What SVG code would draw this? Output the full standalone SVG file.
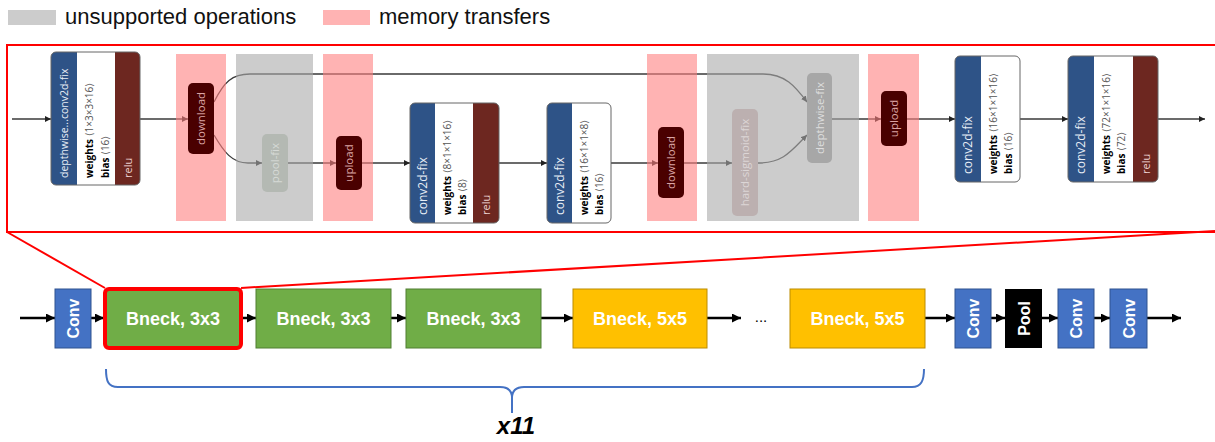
<svg xmlns="http://www.w3.org/2000/svg" width="1215" height="442" viewBox="0 0 1215 442">
<style>
.leg{font-family:"Liberation Sans",Arial,sans-serif;font-size:22px;fill:#111}
.lbl{font-family:"Open Sans","DejaVu Sans",sans-serif;font-size:12px;fill:#e8eef6}
.wt{font-family:"Open Sans","DejaVu Sans",sans-serif;font-size:10px;fill:#000}
.wt .b{font-weight:bold}
.wt .d{fill:#555}
.relu{font-family:"Open Sans","DejaVu Sans",sans-serif;font-size:11px;fill:#ecd2d2}
.mem{fill:#4a0000}
.memt{font-family:"Open Sans","DejaVu Sans",sans-serif;font-size:11.5px;fill:#dba4a4}
.blue{fill:#2e5387}
.brown{fill:#6d2720}
.frame{fill:none;stroke:#666;stroke-width:1}
.e{fill:none;stroke:#3a3a3a;stroke-width:1.3}
.be{fill:none;stroke:#000;stroke-width:2.5}
.bn{font-family:"Liberation Sans",Arial,sans-serif;font-size:18px;font-weight:bold;fill:#fff}
.vt{font-family:"Liberation Sans",Arial,sans-serif;font-size:16px;font-weight:bold;fill:#fff}
</style>
<defs>
<marker id="ah" viewBox="0 0 6 6" refX="6" refY="3" markerWidth="6" markerHeight="6" markerUnits="userSpaceOnUse" orient="auto"><path d="M0,0 L6,3 L0,6 z" fill="#222"/></marker>
<marker id="bh" viewBox="0 0 8 8" refX="8" refY="4" markerWidth="9" markerHeight="9" markerUnits="userSpaceOnUse" orient="auto"><path d="M0,0 L8,4 L0,8 z" fill="#000"/></marker>
</defs>

<!-- legend -->
<g id="legend">
<rect x="8" y="10" width="48" height="15" fill="#cccccc"/>
<text class="leg" x="65" y="24">unsupported operations</text>
<rect x="323" y="10" width="47" height="15" fill="#ffb3b3"/>
<text class="leg" x="379" y="24">memory transfers</text>
</g>

<!-- zoom frame -->
<g id="zoom-frame" fill="none" stroke="#ff0000" stroke-width="2">
<rect x="7" y="45" width="1225" height="187"/>
<line x1="7" y1="232" x2="105" y2="288"/>
<line x1="1215" y1="231" x2="241" y2="288"/>
</g>

<!-- top connectors -->
<g id="connectors-top">
<path class="e" d="M12,119 H51" marker-end="url(#ah)"/>
<path class="e" d="M140,119 H188" marker-end="url(#ah)"/>
<path class="e" d="M214,102 C224,82 232,74 250,74 H763 C785,74 795,86 807,102" marker-end="url(#ah)"/>
<path class="e" d="M214,135 C224,152 232,163 248,163 H262" marker-end="url(#ah)"/>
<path class="e" d="M288,163 H336" marker-end="url(#ah)"/>
<path class="e" d="M362,163 H410" marker-end="url(#ah)"/>
<path class="e" d="M499,163 H547" marker-end="url(#ah)"/>
<path class="e" d="M611,163 H658" marker-end="url(#ah)"/>
<path class="e" d="M684,163 H732" marker-end="url(#ah)"/>
<path class="e" d="M758,163 C784,163 792,150 807,135" marker-end="url(#ah)"/>
<path class="e" d="M832,119 H881" marker-end="url(#ah)"/>
<path class="e" d="M907,119 H955" marker-end="url(#ah)"/>
<path class="e" d="M1020,119 H1068" marker-end="url(#ah)"/>
<path class="e" d="M1158,119 H1205" marker-end="url(#ah)"/>
</g>

<!-- highlight bands -->
<g id="bands">
<rect x="176" y="54" width="50" height="167" fill="#ff8080" fill-opacity="0.6"/>
<rect x="236" y="54" width="77" height="167" fill="#aaaaaa" fill-opacity="0.6"/>
<rect x="323" y="54" width="50" height="167" fill="#ff8080" fill-opacity="0.6"/>
<rect x="647" y="54" width="50" height="167" fill="#ff8080" fill-opacity="0.6"/>
<rect x="707" y="54" width="152" height="167" fill="#aaaaaa" fill-opacity="0.6"/>
<rect x="868" y="54" width="51" height="167" fill="#ff8080" fill-opacity="0.6"/>
</g>

<!-- top nodes -->
<g id="node-depthwise-conv2d">
<path class="blue" d="M77,52 V185 H56 A5,5 0 0 1 51,180 V57 A5,5 0 0 1 56,52 Z"/>
<rect x="77" y="52" width="38" height="133" fill="#fff"/>
<path class="brown" d="M115,52 H135 A5,5 0 0 1 140,57 V180 A5,5 0 0 1 135,185 H115 Z"/>
<rect class="frame" x="51" y="52" width="89" height="133" rx="5"/>
<text class="lbl" font-size="10.5" style="font-size:10.5px" transform="translate(68,178) rotate(-90)">depthwise...conv2d-fix</text>
<text class="wt" transform="translate(93,178) rotate(-90)"><tspan class="b">weights</tspan><tspan class="d"> ⟨1×3×3×16⟩</tspan></text>
<text class="wt" transform="translate(108.5,178) rotate(-90)"><tspan class="b">bias</tspan><tspan class="d"> ⟨16⟩</tspan></text>
<text class="relu" transform="translate(131.5,178) rotate(-90)">relu</text>
</g>

<g id="node-download-1">
<rect class="mem" x="188" y="83" width="26" height="71" rx="5"/>
<text class="memt" text-anchor="middle" transform="translate(205,118.5) rotate(-90)">download</text>
</g>

<g id="node-pool-fix">
<rect x="262" y="134" width="26" height="58" rx="5" fill="#b4b9b3"/>
<text class="memt" style="fill:#d6d9d6" text-anchor="middle" transform="translate(279,163) rotate(-90)">pool-fix</text>
</g>

<g id="node-upload-1">
<rect class="mem" x="336" y="136" width="26" height="54" rx="5"/>
<text class="memt" text-anchor="middle" transform="translate(353,163) rotate(-90)">upload</text>
</g>

<g id="node-conv2d-1">
<path class="blue" d="M435,103 V223 H415 A5,5 0 0 1 410,218 V108 A5,5 0 0 1 415,103 Z"/>
<rect x="435" y="103" width="38" height="120" fill="#fff"/>
<path class="brown" d="M473,103 H494 A5,5 0 0 1 499,108 V218 A5,5 0 0 1 494,223 H473 Z"/>
<rect class="frame" x="410" y="103" width="89" height="120" rx="5"/>
<text class="lbl" transform="translate(427,215) rotate(-90)">conv2d-fix</text>
<text class="wt" transform="translate(451,215) rotate(-90)"><tspan class="b">weights</tspan><tspan class="d"> ⟨8×1×1×16⟩</tspan></text>
<text class="wt" transform="translate(465.5,215) rotate(-90)"><tspan class="b">bias</tspan><tspan class="d"> ⟨8⟩</tspan></text>
<text class="relu" transform="translate(489.5,215) rotate(-90)">relu</text>
</g>

<g id="node-conv2d-2">
<path class="blue" d="M572,103 V223 H552 A5,5 0 0 1 547,218 V108 A5,5 0 0 1 552,103 Z"/>
<path d="M572,103 H606 A5,5 0 0 1 611,108 V218 A5,5 0 0 1 606,223 H572 Z" fill="#fff"/>
<rect class="frame" x="547" y="103" width="64" height="120" rx="5"/>
<text class="lbl" transform="translate(564,215) rotate(-90)">conv2d-fix</text>
<text class="wt" transform="translate(588,215) rotate(-90)"><tspan class="b">weights</tspan><tspan class="d"> ⟨16×1×1×8⟩</tspan></text>
<text class="wt" transform="translate(602.5,215) rotate(-90)"><tspan class="b">bias</tspan><tspan class="d"> ⟨16⟩</tspan></text>
</g>

<g id="node-download-2">
<rect class="mem" x="658" y="127" width="26" height="71" rx="5"/>
<text class="memt" text-anchor="middle" transform="translate(675,162.5) rotate(-90)">download</text>
</g>

<g id="node-hard-sigmoid">
<rect x="732" y="109" width="26" height="107" rx="5" fill="#bcb0b0"/>
<text class="memt" style="fill:#dcd6d6" text-anchor="middle" transform="translate(749,162.5) rotate(-90)">hard-sigmoid-fix</text>
</g>

<g id="node-depthwise-fix">
<rect x="807" y="73" width="25" height="90" rx="5" fill="#a7a7a7"/>
<text class="memt" style="fill:#dedede" text-anchor="middle" transform="translate(823.5,118) rotate(-90)">depthwise-fix</text>
</g>

<g id="node-upload-2">
<rect class="mem" x="881" y="91" width="26" height="55" rx="5"/>
<text class="memt" text-anchor="middle" transform="translate(898,118.5) rotate(-90)">upload</text>
</g>

<g id="node-conv2d-3">
<path class="blue" d="M981,56 V182 H960 A5,5 0 0 1 955,177 V61 A5,5 0 0 1 960,56 Z"/>
<path d="M981,56 H1015 A5,5 0 0 1 1020,61 V177 A5,5 0 0 1 1015,182 H981 Z" fill="#fff"/>
<rect class="frame" x="955" y="56" width="65" height="126" rx="5"/>
<text class="lbl" transform="translate(972,174) rotate(-90)">conv2d-fix</text>
<text class="wt" transform="translate(997,174) rotate(-90)"><tspan class="b">weights</tspan><tspan class="d"> ⟨16×1×1×16⟩</tspan></text>
<text class="wt" transform="translate(1011.5,174) rotate(-90)"><tspan class="b">bias</tspan><tspan class="d"> ⟨16⟩</tspan></text>
</g>

<g id="node-conv2d-4">
<path class="blue" d="M1094,56 V182 H1073 A5,5 0 0 1 1068,177 V61 A5,5 0 0 1 1073,56 Z"/>
<rect x="1094" y="56" width="39" height="126" fill="#fff"/>
<path class="brown" d="M1133,56 H1153 A5,5 0 0 1 1158,61 V177 A5,5 0 0 1 1153,182 H1133 Z"/>
<rect class="frame" x="1068" y="56" width="90" height="126" rx="5"/>
<text class="lbl" transform="translate(1085,174) rotate(-90)">conv2d-fix</text>
<text class="wt" transform="translate(1110,174) rotate(-90)"><tspan class="b">weights</tspan><tspan class="d"> ⟨72×1×1×16⟩</tspan></text>
<text class="wt" transform="translate(1124.5,174) rotate(-90)"><tspan class="b">bias</tspan><tspan class="d"> ⟨72⟩</tspan></text>
<text class="relu" transform="translate(1149.5,174) rotate(-90)">relu</text>
</g>

<!-- bottom connectors -->
<g id="connectors-bottom">
<path class="be" d="M20,318 H55" marker-end="url(#bh)"/>
<path class="be" d="M91,318 H104" marker-end="url(#bh)"/>
<path class="be" d="M242,318 H256" marker-end="url(#bh)"/>
<path class="be" d="M391,318 H406" marker-end="url(#bh)"/>
<path class="be" d="M541,318 H573" marker-end="url(#bh)"/>
<path class="be" d="M707,318 H741" marker-end="url(#bh)"/>
<path class="be" d="M925,318 H955" marker-end="url(#bh)"/>
<path class="be" d="M991,318 H1005" marker-end="url(#bh)"/>
<path class="be" d="M1042,318 H1058" marker-end="url(#bh)"/>
<path class="be" d="M1094,318 H1110" marker-end="url(#bh)"/>
<path class="be" d="M1147,318 H1181" marker-end="url(#bh)"/>
</g>

<!-- bottom nodes -->
<g id="conv-1">
<rect x="55" y="289" width="36" height="59" fill="#4472c4" stroke="#2f528f" stroke-width="1"/>
<text class="vt" text-anchor="middle" transform="translate(73,318.5) rotate(-90)" y="6">Conv</text>
</g>
<g id="bneck-1">
<rect x="105" y="289" width="136" height="59" rx="4" fill="#70ad47" stroke="#ff0000" stroke-width="4"/>
<text class="bn" x="173" y="324.5" text-anchor="middle">Bneck, 3x3</text>
</g>
<g id="bneck-2">
<rect x="256" y="289" width="135" height="59" fill="#70ad47" stroke="#507e32" stroke-width="1"/>
<text class="bn" x="323.5" y="324.5" text-anchor="middle">Bneck, 3x3</text>
</g>
<g id="bneck-3">
<rect x="406" y="289" width="135" height="59" fill="#70ad47" stroke="#507e32" stroke-width="1"/>
<text class="bn" x="473.5" y="324.5" text-anchor="middle">Bneck, 3x3</text>
</g>
<g id="bneck-4">
<rect x="573" y="289" width="134" height="59" fill="#ffc000" stroke="#bc8c00" stroke-width="1"/>
<text class="bn" x="640" y="324.5" text-anchor="middle">Bneck, 5x5</text>
</g>
<g id="ellipsis">
<text x="761" y="322" text-anchor="middle" font-family="Liberation Sans, Arial, sans-serif" font-size="15" fill="#000">...</text>
</g>
<g id="bneck-5">
<rect x="790" y="289" width="135" height="59" fill="#ffc000" stroke="#bc8c00" stroke-width="1"/>
<text class="bn" x="857.5" y="324.5" text-anchor="middle">Bneck, 5x5</text>
</g>
<g id="conv-2">
<rect x="955" y="289" width="36" height="59" fill="#4472c4" stroke="#2f528f" stroke-width="1"/>
<text class="vt" text-anchor="middle" transform="translate(973,318.5) rotate(-90)" y="6">Conv</text>
</g>
<g id="pool">
<rect x="1005" y="289" width="37" height="59" fill="#000"/>
<text class="vt" text-anchor="middle" transform="translate(1023.5,318.5) rotate(-90)" y="6">Pool</text>
</g>
<g id="conv-3">
<rect x="1058" y="289" width="36" height="59" fill="#4472c4" stroke="#2f528f" stroke-width="1"/>
<text class="vt" text-anchor="middle" transform="translate(1076,318.5) rotate(-90)" y="6">Conv</text>
</g>
<g id="conv-4">
<rect x="1110" y="289" width="37" height="59" fill="#4472c4" stroke="#2f528f" stroke-width="1"/>
<text class="vt" text-anchor="middle" transform="translate(1128.5,318.5) rotate(-90)" y="6">Conv</text>
</g>

<!-- brace -->
<g id="brace">
<path d="M106,369 C106,381 108,387 118,387 H500 C508,387 512,390 512,398 V413 M512,398 C512,390 516,387 524,387 H912 C921,387 924,381 924,369" fill="none" stroke="#4472c4" stroke-width="2"/>
<text x="516" y="434" text-anchor="middle" font-family="Liberation Sans, Arial, sans-serif" font-size="24" font-weight="bold" font-style="italic" fill="#000">x11</text>
</g>
</svg>
